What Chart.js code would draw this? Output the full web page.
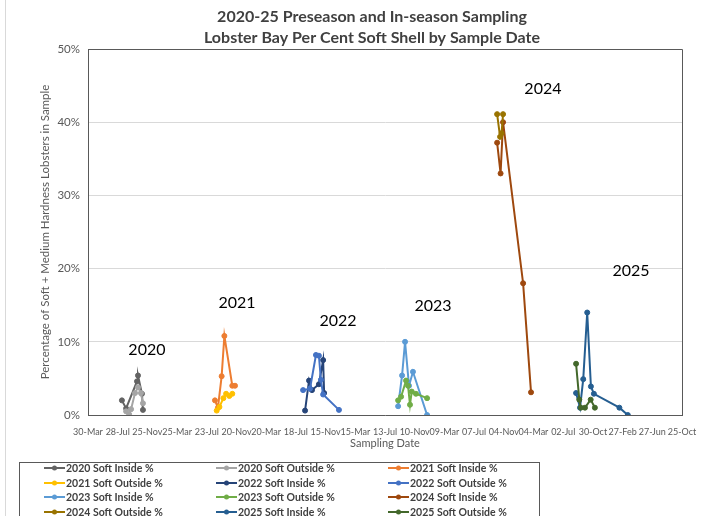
<!DOCTYPE html>
<html>
<head>
<meta charset="utf-8">
<title>Lobster Bay Per Cent Soft Shell</title>
<script src="https://cdn.jsdelivr.net/npm/chart.js"></script>
<style>
  html, body { margin: 0; padding: 0; background: #fff; overflow: hidden; }
  #wrap { position: relative; width: 717px; height: 516px; overflow: hidden; }
  #edge { position: absolute; left: 5px; top: 0; width: 1px; height: 516px; background: #d9d9d9; }
  #legend { position: absolute; left: 19px; top: 462px; width: 521px; height: 70px; border: 1px solid #595959; box-sizing: border-box; }
  .item { position: absolute; display: flex; align-items: center; height: 14px; font: bold 10.5px Lato, sans-serif; color: #404040; white-space: nowrap; }
  .item svg { margin-right: 1px; }
</style>
</head>
<body>
<div id="wrap">
  <div id="edge"></div>
  <canvas id="chart" width="717" height="516"></canvas>
  <div id="legend"></div>
</div>
<script>
// Axis ticks every 120 days starting 30-Mar-2020
const tickLabels = ['30-Mar', '28-Jul', '25-Nov', '25-Mar', '23-Jul', '20-Nov', '20-Mar', '18-Jul', '15-Nov', '15-Mar',
    '13-Jul', '10-Nov', '09-Mar', '07-Jul', '04-Nov', '04-Mar', '02-Jul', '30-Oct', '27-Feb', '27-Jun', '25-Oct'];

const titleLines = ['2020-25 Preseason and In-season Sampling', 'Lobster Bay Per Cent Soft Shell by Sample Date'];

const seriesNames = ['2020 Soft Inside %', '2020 Soft Outside %', '2021 Soft Inside %', '2021 Soft Outside %',
    '2022 Soft Inside %', '2022 Soft Outside %', '2023 Soft Inside %', '2023 Soft Outside %',
    '2024 Soft Inside %', '2024 Soft Outside %', '2025 Soft Inside %', '2025 Soft Outside %'];

const seriesColors = ['#636363', '#A5A5A5', '#ED7D31', '#FFC000', '#264478', '#4472C4',
    '#5B9BD5', '#70AD47', '#9E480E', '#997300', '#255E91', '#43682B'];

// Sample dates and per cent soft, per season
const dates2020In = ['2020-08-14', '2020-08-31', '2020-10-14', '2020-10-18', '2020-11-03', '2020-11-07'];
const vals2020In = [2.0, 0.9, 4.6, 5.4, 2.9, 0.7];
const dates2020Out = ['2020-08-31', '2020-09-12', '2020-09-20', '2020-10-06', '2020-10-18', '2020-10-30', '2020-11-07'];
const vals2020Out = [0.5, 0.1, 0.8, 3.0, 3.8, 3.0, 1.6];

const dates2021In = ['2021-08-25', '2021-09-06', '2021-09-21', '2021-10-02', '2021-11-03', '2021-11-14'];
const vals2021In = [2.0, 1.0, 5.3, 10.8, 4.0, 4.0];
const dates2021Out = ['2021-09-01', '2021-09-12', '2021-09-28', '2021-10-09', '2021-10-22', '2021-11-03'];
const vals2021Out = [0.6, 1.1, 2.3, 2.9, 2.6, 2.9];

const dates2022In = ['2022-08-24', '2022-09-09', '2022-09-21', '2022-10-19', '2022-11-05', '2022-11-09'];
const vals2022In = [0.6, 4.7, 3.4, 4.2, 7.5, 3.0];
const dates2022Out = ['2022-08-16', '2022-09-13', '2022-10-07', '2022-10-19', '2022-10-27', '2022-11-05', '2023-01-08'];
const vals2022Out = [3.4, 3.6, 8.2, 8.1, 4.8, 2.8, 0.7];

const dates2023In = ['2023-09-04', '2023-09-20', '2023-10-02', '2023-10-18', '2023-11-03', '2023-12-30'];
const vals2023In = [1.2, 5.4, 10.0, 4.0, 5.9, 0.0];
const dates2023Out = ['2023-09-04', '2023-09-16', '2023-10-06', '2023-10-14', '2023-10-22', '2023-10-29', '2023-11-15', '2023-12-30'];
const vals2023Out = [2.0, 2.5, 4.7, 4.0, 1.4, 3.2, 2.9, 2.3];

const dates2024In = ['2024-10-08', '2024-10-22', '2024-11-01', '2025-01-21', '2025-02-22'];
const vals2024In = [37.2, 33.0, 40.0, 18.0, 3.1];
const dates2024Out = ['2024-10-08', '2024-10-20', '2024-10-26', '2024-11-01'];
const vals2024Out = [41.1, 38.0, 38.5, 41.1];

const dates2025In = ['2025-08-23', '2025-09-08', '2025-09-21', '2025-10-07', '2025-10-22', '2025-11-03', '2026-02-14', '2026-03-20'];
const vals2025In = [3.0, 1.0, 4.9, 14.0, 3.9, 2.9, 1.0, 0.0];
const dates2025Out = ['2025-08-23', '2025-09-05', '2025-09-11', '2025-09-28', '2025-10-21', '2025-11-07'];
const vals2025Out = [7.0, 2.1, 1.0, 1.0, 2.1, 1.0];

// Season labels written inside the plot (anchored at a date / value)
const yearLabels = ['2020', '2021', '2022', '2023', '2024', '2025'];
const yearLabelDates = ['2020-11-23', '2021-11-22', '2023-01-04', '2024-01-23', '2025-04-11', '2026-04-02'];
const yearLabelValues = [8.9, 15.3, 12.9, 14.85, 44.5, 19.75];

const startDay = Date.UTC(2020, 2, 30);

// days since 30-Mar-2020
function dayNumber(s) {
    const [y, m, d] = s.split('-').map(Number);
    return Math.round((Date.UTC(y, m - 1, d) - startDay) / 86400000);
}

function toPoints(dates, values) {
    return dates.map((d, i) => ({ x: dayNumber(d), y: values[i] }));
}

const seriesData = [
    toPoints(dates2020In, vals2020In), toPoints(dates2020Out, vals2020Out),
    toPoints(dates2021In, vals2021In), toPoints(dates2021Out, vals2021Out),
    toPoints(dates2022In, vals2022In), toPoints(dates2022Out, vals2022Out),
    toPoints(dates2023In, vals2023In), toPoints(dates2023Out, vals2023Out),
    toPoints(dates2024In, vals2024In), toPoints(dates2024Out, vals2024Out),
    toPoints(dates2025In, vals2025In), toPoints(dates2025Out, vals2025Out)
];

const datasets = seriesNames.map((name, i) => ({
    label: name,
    data: seriesData[i],
    borderColor: seriesColors[i],
    backgroundColor: seriesColors[i],
    pointBackgroundColor: seriesColors[i],
    pointBorderColor: seriesColors[i],
    borderWidth: 2,
    pointRadius: 2.5,
    pointBorderWidth: 1,
    tension: 0,
    order: seriesNames.length - i // later series on top, as in Excel
}));

const FONT = 'Lato, sans-serif';

// Title drawn by hand: in the original it is not centred on the canvas
const titlePlugin = {
    id: 'chartTitle',
    afterDraw(chart) {
        const { ctx } = chart;
        ctx.save();
        ctx.font = 'bold 16px ' + FONT;
        ctx.fillStyle = '#404040';
        ctx.textAlign = 'center';
        ctx.textBaseline = 'middle';
        ctx.fillText(titleLines[0], 372, 17);
        ctx.fillText(titleLines[1], 372, 38);
        ctx.restore();
    }
};

// plot frame (top + right; left/bottom come from the axis borders)
const framePlugin = {
    id: 'frame',
    beforeDatasetsDraw(chart) {
        const { ctx, chartArea: a } = chart;
        ctx.save();
        ctx.strokeStyle = '#595959';
        ctx.lineWidth = 1;
        ctx.beginPath();
        ctx.moveTo(Math.round(a.left), Math.round(a.top) + 0.5);
        ctx.lineTo(Math.round(a.right) + 0.5, Math.round(a.top) + 0.5);
        ctx.lineTo(Math.round(a.right) + 0.5, Math.round(a.bottom));
        ctx.stroke();
        ctx.restore();
    }
};

const yearLabelPlugin = {
    id: 'yearLabels',
    afterDatasetsDraw(chart) {
        const { ctx, scales } = chart;
        ctx.save();
        ctx.font = '16px ' + FONT;
        ctx.fillStyle = '#000';
        ctx.textAlign = 'center';
        ctx.textBaseline = 'middle';
        yearLabels.forEach((t, i) => {
            const x = scales.x.getPixelForValue(dayNumber(yearLabelDates[i]));
            const y = scales.y.getPixelForValue(yearLabelValues[i]);
            ctx.fillText(t, x, y);
        });
        ctx.restore();
    }
};

const chart = new Chart(document.getElementById('chart'), {
    type: 'line',
    data: { datasets: datasets },
    plugins: [titlePlugin, framePlugin, yearLabelPlugin],
    options: {
        responsive: false,
        animation: false,
        layout: { padding: { left: 0, right: 35, top: 49, bottom: 0 } },
        plugins: {
            legend: { display: false },
            tooltip: { enabled: false },
            title: { display: false }
        },
        scales: {
            x: {
                type: 'linear',
                min: 0,
                max: 2400,
                afterFit: (s) => { s.height = 101; },
                grid: { display: false, drawTicks: false },
                border: { display: true, color: '#595959', width: 1 },
                ticks: {
                    stepSize: 120,
                    autoSkip: false,
                    maxRotation: 0,
                    minRotation: 0,
                    padding: 12,
                    color: '#595959',
                    font: { family: FONT, size: 9 },
                    callback: (v) => tickLabels[Math.round(v / 120)]
                },
                title: {
                    display: true,
                    text: 'Sampling Date',
                    color: '#595959',
                    font: { family: FONT, size: 11, lineHeight: 1.2 },
                    padding: { top: 0, bottom: 66 }
                }
            },
            y: {
                min: 0,
                max: 50,
                afterFit: (s) => { s.width = 88; },
                grid: { color: '#D9D9D9', drawTicks: false },
                border: { display: true, color: '#595959', width: 1 },
                ticks: {
                    stepSize: 10,
                    padding: 8,
                    color: '#595959',
                    font: { family: FONT, size: 11.5 },
                    callback: (v) => v + '%'
                },
                title: {
                    display: true,
                    text: 'Percentage of Soft + Medium Hardness Lobsters in Sample',
                    color: '#595959',
                    font: { family: FONT, size: 11.5, lineHeight: 1.2 },
                    padding: { top: 38, bottom: 0 }
                }
            }
        }
    }
});

// HTML legend laid out in three columns like the original
function buildLegend() {
    const box = document.getElementById('legend');
    chart.data.datasets.forEach((ds, i) => {
        const col = i % 3;
        const row = Math.floor(i / 3);
        const item = document.createElement('div');
        item.className = 'item';
        item.style.left = (24 + col * 172) + 'px';
        item.style.top = (-2 + row * 14.5) + 'px';
        item.innerHTML = '<svg width="21" height="8"><line x1="0" y1="4" x2="21" y2="4" stroke="' + ds.borderColor +
            '" stroke-width="2"/><circle cx="10.5" cy="4" r="2.5" fill="' + ds.borderColor + '"/></svg>';
        const label = document.createElement('span');
        label.textContent = ds.label;
        item.appendChild(label);
        box.appendChild(item);
    });
}
buildLegend();
</script>
</body>
</html>
